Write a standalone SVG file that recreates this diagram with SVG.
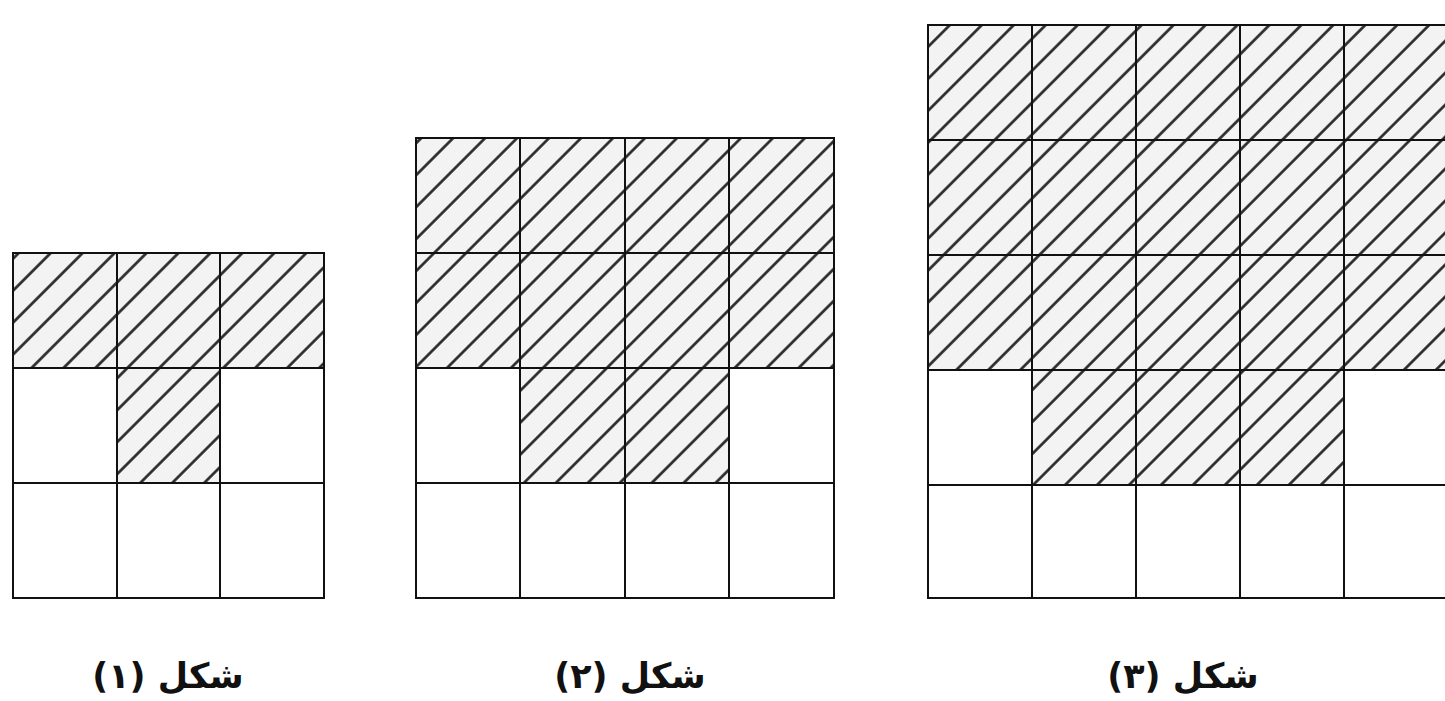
<svg xmlns="http://www.w3.org/2000/svg" width="1445" height="701" viewBox="0 0 1445 701">
<defs>
<pattern id="hatch" patternUnits="userSpaceOnUse" width="22.6" height="22.6" patternTransform="rotate(45)">
<rect width="22.6" height="22.6" fill="#f3f3f3"/>
<line x1="11.3" y1="0" x2="11.3" y2="22.6" stroke="#222" stroke-width="2.6"/>
</pattern>
</defs>
<style>
.h{fill:url(#hatch);stroke:none}
.g{fill:none;stroke:#111;stroke-width:2}
.lbl{font-family:"DejaVu Sans",sans-serif;font-weight:bold;font-size:35px;fill:#111}
</style>
<rect width="1445" height="701" fill="#fff"/>
<g id="fig1">
<rect class="h" x="13" y="253" width="311" height="115"/>
<rect class="h" x="117" y="368" width="103" height="115"/>
<path class="g" d="M13 253H324V598H13Z M117 253V598 M220 253V598 M13 368H324 M13 483H324"/>
</g>
<g id="fig2">
<rect class="h" x="416" y="138" width="418" height="230"/>
<rect class="h" x="520" y="368" width="209" height="115"/>
<path class="g" d="M416 138H834V598H416Z M520 138V598 M625 138V598 M729 138V598 M416 253H834 M416 368H834 M416 483H834"/>
</g>
<g id="fig3">
<rect class="h" x="928" y="25" width="520" height="345"/>
<rect class="h" x="1032" y="370" width="312" height="115"/>
<path class="g" d="M928 25H1448V598H928Z M1032 25V598 M1136 25V598 M1240 25V598 M1344 25V598 M928 140H1448 M928 255H1448 M928 370H1448 M928 485H1448"/>
</g>
<g id="labels">
<text class="lbl" x="168" y="688" text-anchor="middle" direction="rtl">شکل (۱)</text>
<text class="lbl" x="630" y="688" text-anchor="middle" direction="rtl">شکل (۲)</text>
<text class="lbl" x="1183" y="688" text-anchor="middle" direction="rtl">شکل (۳)</text>
</g>
</svg>
